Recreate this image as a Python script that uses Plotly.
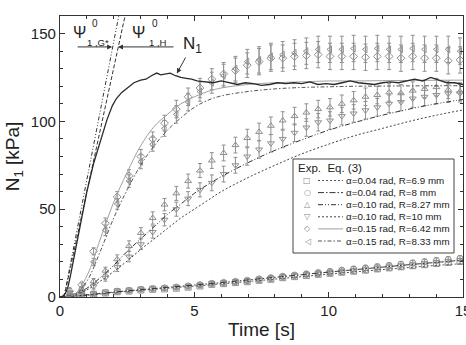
import plotly.graph_objects as go

# ---------------- data ----------------
N1_T = [0, 0.1, 0.2, 0.3, 0.4, 0.6, 0.8, 1.0, 1.25, 1.5, 1.75, 1.95, 2.1, 2.3, 2.5, 2.75, 3.0, 3.2, 3.4,
        3.6, 3.75, 3.9, 4.1, 4.3, 4.5, 4.7, 4.9, 5.1, 5.4, 5.7, 6.0, 6.3, 6.6, 6.9, 7.2, 7.5, 7.8,
        8.1, 8.4, 8.7, 9.0, 9.3, 9.6, 9.9, 10.2, 10.5, 10.8, 11.1, 11.4, 11.7, 12.0, 12.3, 12.6,
        12.9, 13.2, 13.5, 13.8, 14.1, 14.4, 14.7, 15.0]
N1_V = [0, 0.5, 2, 6, 13, 29, 45, 60, 76, 89, 101, 109, 113, 116.5, 119, 122, 123.5, 124, 126,
        127.5, 126.5, 127, 127.5, 126, 125, 124.5, 124, 123, 122.5, 122, 123, 122, 121, 122, 121.5,
        120.5, 121, 122, 121.5, 122, 121.5, 122.5, 121, 121.5, 121, 122, 123, 122, 121.5, 121, 122,
        122.5, 122, 123, 124, 123, 125, 123.5, 122, 122, 121]

PSI_G_T = [0.15, 2.25]
PSI_G_V = [0, 165]
PSI_H_T = [0.15, 2.49]
PSI_H_V = [0, 165]

MODEL_T = [0, 0.5, 1, 1.5, 2, 2.5, 3, 3.5, 4, 4.5, 5, 5.5, 6, 7, 8, 9, 10, 11, 12, 13, 14, 15]
M_004_69 = [0, 0.4, 1, 1.7, 2.5, 3.2, 3.8, 4.4, 5, 5.6, 6.2, 6.8, 7.5, 8.8, 10.2, 11.6, 13, 14.3, 15.6, 16.8, 18, 19]
M_004_8 = [0, 0.5, 1.2, 2, 2.8, 3.5, 4.2, 4.8, 5.5, 6.1, 6.8, 7.5, 8.2, 9.7, 11.2, 12.7, 14.2, 15.6, 17, 18.4, 19.7, 21]
M_010_827 = [0, 1.5, 5, 11, 18, 26, 33, 40, 47, 53, 59, 64, 68.5, 76.5, 83.5, 89.5, 95, 99.5, 103.5, 107, 110, 112.5]
M_010_10 = [0, 1, 4, 9, 14.5, 20.5, 27, 33, 39, 45, 50, 55, 60, 68, 75, 81.5, 87, 92, 96, 100, 103.5, 106.5]
M_015_642 = [0, 1, 12, 33, 54, 71, 86, 97, 104, 110, 114, 117, 119, 121, 122, 122.5, 123, 123, 123.2, 123.3, 123.4, 123.5]
M_015_833 = [0, 0.5, 9, 26, 45, 61, 75, 86, 95, 102, 108, 112, 114.5, 117, 118.5, 119.3, 119.7, 120, 120.1, 120.2, 120.3, 120.3]

EXP_T = [0.37, 0.81, 1.25, 1.69, 2.13, 2.57, 3.01, 3.45, 3.89, 4.33, 4.77, 5.21, 5.65, 6.09, 6.53, 6.97,
         7.41, 7.85, 8.29, 8.73, 9.17, 9.61, 10.05, 10.49, 10.93, 11.37, 11.81, 12.25, 12.69, 13.13,
         13.57, 14.01, 14.45, 14.89]
E_004_69 = [0.5, 1.0, 1.5, 2.3, 3.0, 3.4, 4.0, 4.4, 4.6, 5.0, 5.6, 6.3, 7.2, 7.6, 8.2, 8.7, 9.5, 10.1,
            11.0, 11.6, 12.2, 12.9, 13.5, 14.1, 14.7, 15.3, 16.0, 16.6, 17.2, 17.8, 18.4, 19.1, 19.7, 20.3]
E_004_8 = [0.6, 1.2, 1.8, 2.6, 3.3, 3.8, 4.4, 4.8, 5.2, 5.7, 6.3, 7.0, 7.8, 8.3, 8.9, 9.5, 10.3, 11.0,
           11.8, 12.5, 13.2, 13.9, 14.6, 15.3, 16.0, 16.6, 17.3, 18.0, 18.7, 19.4, 20.1, 20.8, 21.4, 22.0]
E_010_827 = [4, 4.5, 9, 15, 21.5, 29, 36.5, 45, 52.6, 59, 66, 72, 77.7, 82, 86.5, 90.5, 94, 97.5, 100.5,
             103, 105, 107, 108, 110, 112, 114, 115, 116.5, 116, 117.5, 118.5, 119.5, 118, 117]
E_010_10 = [2.5, 3, 6, 11, 17, 23, 30, 37, 44, 50, 56, 61, 65, 70, 75, 80, 84, 87.5, 90, 93.5, 96.5, 99.5,
            100.5, 103, 104.5, 106.3, 108, 110, 111, 113, 114, 115, 115.8, 116]
E_015_642 = [1, 7, 26, 42, 57, 69, 80, 90, 99, 107, 114, 119, 124, 127, 129, 132, 134, 136, 136, 137,
             137.5, 138, 137, 137, 137, 136.5, 137, 137, 136, 137, 136, 136, 134.5, 135]
E_015_833 = [0.5, 5, 20, 38, 53, 66, 77, 87, 96, 104, 111, 117, 122, 126, 130, 134, 135, 137, 138, 139,
             140, 141, 141, 141, 141.5, 141, 141.5, 141, 141, 141.5, 141, 141, 141, 140]
ERR_LOW = [0.6, 0.6, 0.7, 0.7, 0.8, 0.8, 0.8, 0.9, 0.9, 0.9, 1.0, 1.0, 1.0, 1.1, 1.1, 1.1, 1.2, 1.2,
           1.2, 1.2, 1.3, 1.3, 1.3, 1.3, 1.4, 1.4, 1.4, 1.4, 1.5, 1.5, 1.5, 1.5, 1.5, 1.5]
ERR_MID = [1, 1, 1.5, 2, 2.5, 3, 3, 3.5, 3.5, 4, 4, 4, 4.5, 4.5, 4.5, 5, 5, 5, 5, 5, 5, 5, 5, 5, 5, 5,
           5, 5, 5, 5, 5, 5, 5, 5]
ERR_HIGH = [0.5, 1, 2, 3, 3, 3.5, 4, 4, 4.5, 5, 5, 5.5, 6, 6.5, 7, 7, 7.5, 7.5, 7.5, 7.5, 7.5, 7.5,
            7.5, 7.5, 7.5, 7.5, 7.5, 7.5, 7.5, 7.5, 7.5, 7.5, 7.5, 7.5]

LABELS = ["α=0.04 rad, R=6.9 mm", "α=0.04 rad, R=8 mm", "α=0.10 rad, R=8.27 mm",
          "α=0.10 rad, R=10 mm", "α=0.15 rad, R=6.42 mm", "α=0.15 rad, R=8.33 mm"]

# ---------------- styles ----------------
FONT = "Liberation Sans, Arial, sans-serif"
models = [M_004_69, M_004_8, M_010_827, M_010_10, M_015_642, M_015_833]
model_dash = ["2px,2px", "6px,2px,1.5px,2px", "5px,2px,1px,2px,1px,2px", "2px,2px", "solid", "4px,2px,1.5px,2px"]
model_color = ["#555", "#333", "#333", "#444", "#a0a0a0", "#555"]
exps = [E_004_69, E_004_8, E_010_827, E_010_10, E_015_642, E_015_833]
errs = [ERR_LOW, ERR_LOW, ERR_MID, ERR_MID, ERR_HIGH, ERR_HIGH]
symbols = ["square-open", "circle-open", "triangle-up-open", "triangle-down-open", "diamond-open",
           "triangle-left-open"]
legend_sym = ["□", "○", "△", "▽", "◇", "◁"]
MK = "#909090"

fig = go.Figure()

for ev, er, sym in zip(exps, errs, symbols):
    fig.add_trace(go.Scatter(
        x=EXP_T, y=ev, mode="markers",
        marker=dict(symbol=sym, size=6, color=MK, line=dict(width=1, color=MK)),
        error_y=dict(type="data", array=er, visible=True, color=MK, thickness=1, width=2),
        showlegend=False))

for mv, dsh, col in zip(models, model_dash, model_color):
    fig.add_trace(go.Scatter(x=MODEL_T, y=mv, mode="lines", line_shape="spline",
                             line=dict(color=col, width=1, dash=dsh), showlegend=False))

fig.add_trace(go.Scatter(x=PSI_G_T, y=PSI_G_V, mode="lines",
                         line=dict(color="#333", width=1, dash="4px,2px,1px,2px,1px,2px"), showlegend=False))
fig.add_trace(go.Scatter(x=PSI_H_T, y=PSI_H_V, mode="lines",
                         line=dict(color="#333", width=1, dash="4px,2px"), showlegend=False))
fig.add_trace(go.Scatter(x=N1_T, y=N1_V, mode="lines",
                         line=dict(color="#2a2a2a", width=1.3), showlegend=False))

# ---------------- annotations ----------------
ann = []
def txt(x, y, s, size, xanchor="center"):
    ann.append(dict(x=x, y=y, xref="x", yref="y", text=s, showarrow=False,
                    font=dict(family=FONT, size=size, color="#222"), xanchor=xanchor, yanchor="middle"))

txt(0.71, 150.5, "Ψ", 16)
txt(1.30, 155.5, "0", 10)
txt(1.43, 144.8, "1 ,G*", 9.5)
txt(2.94, 150.5, "Ψ", 16)
txt(3.54, 155.5, "0", 10)
txt(3.63, 144.8, "1 ,H", 9.5)

# N1 label with its arrow pointing to the curve
ann.append(dict(x=4.35, y=127.3, ax=4.93, ay=143.5, xref="x", yref="y", axref="x", ayref="y",
                text="N<sub>1</sub>", font=dict(family=FONT, size=17, color="#222"),
                showarrow=True, arrowhead=2, arrowsize=1, arrowwidth=1, arrowcolor="#333", standoff=0))

ann.append(dict(x=1.94, y=142.4, ax=0.6, ay=142.4, xref="x", yref="y", axref="x", ayref="y",
                text="", showarrow=True, arrowhead=2, arrowsize=1, arrowwidth=1, arrowcolor="#333"))
ann.append(dict(x=2.16, y=142.4, ax=4.28, ay=142.4, xref="x", yref="y", axref="x", ayref="y",
                text="", showarrow=True, arrowhead=2, arrowsize=1, arrowwidth=1, arrowcolor="#333"))

# ---------------- manual legend (paper coords) ----------------
W, H, L, T = 466, 345, 60, 16
PW, PH = W - L - 3, H - T - 48
def px(xp):
    return (xp - L) / PW
def py(yp):
    return (H - 48 - yp) / PH

shapes = [dict(type="rect", xref="paper", yref="paper", x0=px(293), x1=px(454), y0=py(253), y1=py(159),
               line=dict(color="#444", width=1), fillcolor="white", layer="above")]
ann.append(dict(x=px(296), y=py(168), xref="paper", yref="paper", text="Exp.  Eq. (3)", showarrow=False,
                xanchor="left", yanchor="middle", font=dict(family=FONT, size=11.5, color="#222")))
rows = [180.5, 192.6, 204.7, 216.8, 228.9, 241.0]
for r, lab, sym, dsh, col in zip(rows, LABELS, legend_sym, model_dash, model_color):
    ann.append(dict(x=px(307), y=py(r), xref="paper", yref="paper", text=sym, showarrow=False,
                    xanchor="center", yanchor="middle", font=dict(family="DejaVu Sans", size=8, color="#888")))
    shapes.append(dict(type="line", xref="paper", yref="paper", x0=px(318), x1=px(343), y0=py(r), y1=py(r),
                       line=dict(color=col, width=1, dash=dsh), layer="above"))
    ann.append(dict(x=px(344), y=py(r), xref="paper", yref="paper", text=lab, showarrow=False,
                    xanchor="left", yanchor="middle", font=dict(family=FONT, size=9.8, color="#222")))

axis_common = dict(showline=True, linecolor="#333", linewidth=1.2, mirror="allticks", ticks="inside",
                   ticklen=5, tickwidth=1, tickcolor="#333", showgrid=False, zeroline=False,
                   automargin=False, tickfont=dict(family=FONT, size=15, color="#222"))

fig.update_layout(
    width=W, height=H, margin=dict(l=L, r=3, t=T, b=48, autoexpand=False),
    plot_bgcolor="white", paper_bgcolor="white", showlegend=False,
    xaxis=dict(range=[0, 15], tickvals=[0, 5, 10, 15], ticklabeloverflow="allow",
               minor=dict(dtick=1, ticks="inside", ticklen=3, tickcolor="#333", showgrid=False),
               title=dict(text="Time [s]", font=dict(family=FONT, size=19, color="#222"), standoff=4),
               **axis_common),
    yaxis=dict(range=[0, 160], tickvals=[0, 50, 100, 150], minor=dict(dtick=10, ticks="inside", ticklen=3,
               tickcolor="#333", showgrid=False),
               title=dict(text="N<sub>1</sub> [kPa]", font=dict(family=FONT, size=19, color="#222"), standoff=6),
               **axis_common),
    annotations=ann, shapes=shapes,
)

fig.write_html("out.html")
